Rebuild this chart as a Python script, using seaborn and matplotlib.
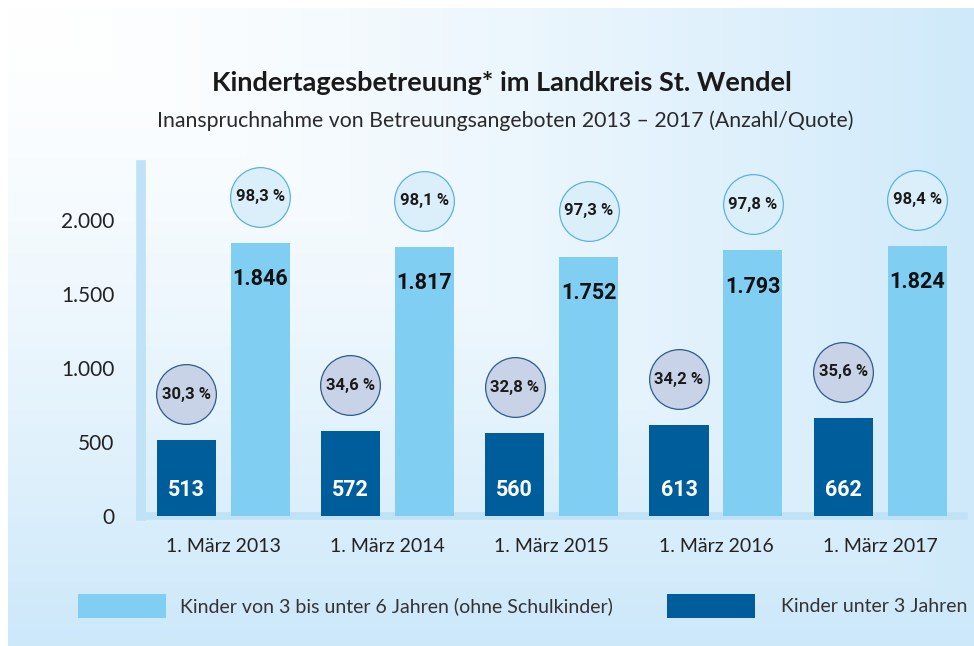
import numpy as np
import pandas as pd
import matplotlib
matplotlib.use("Agg")
import matplotlib.pyplot as plt
import matplotlib.transforms as mtransforms
from matplotlib.patches import Patch
import seaborn as sns

# === DATA ===
stichtage = ["1. März 2013", "1. März 2014", "1. März 2015", "1. März 2016", "1. März 2017"]
kinder_unter_3 = [513, 572, 560, 613, 662]
kinder_3_bis_6 = [1846, 1817, 1752, 1793, 1824]
quote_unter_3 = [30.3, 34.6, 32.8, 34.2, 35.6]
quote_3_bis_6 = [98.3, 98.1, 97.3, 97.8, 98.4]

lbl_unter3 = "Kinder unter 3 Jahren"
lbl_3bis6 = "Kinder von 3 bis unter 6 Jahren (ohne Schulkinder)"

df = pd.DataFrame({
    "Stichtag": stichtage * 2,
    "Anzahl": kinder_unter_3 + kinder_3_bis_6,
    "Gruppe": [lbl_unter3] * 5 + [lbl_3bis6] * 5,
})

dark = "#005d9c"
light = "#80cef2"

sns.set_theme(style="white")
plt.rcParams["font.family"] = ["Lato", "DejaVu Sans"]

fig = plt.figure(figsize=(9.74, 6.46), dpi=100)
fig.patch.set_facecolor("white")

# === BACKGROUND GRADIENT ===
bg = fig.add_axes([8 / 974, 0, 1 - 8 / 974, 1 - 8 / 646])
xx, yy = np.meshgrid(np.linspace(0, 1, 300), np.linspace(0, 1, 200))
t = np.clip(np.maximum(xx * 0.95, yy) ** 1.4, 0, 1)
c0 = np.array([1.0, 1.0, 1.0])
c1 = np.array([0.80, 0.91, 0.98])
img = c0[None, None, :] * (1 - t[..., None]) + c1[None, None, :] * t[..., None]
bg.imshow(img, aspect="auto", extent=[0, 1, 0, 1], origin="upper")
bg.set_axis_off()
bg.set_zorder(0)

# === BARS ===
ax = fig.add_axes([141 / 974, 130 / 646, (964 - 141) / 974, (516 - 165) / 646])
ax.set_zorder(1)
ax.patch.set_alpha(0)
sns.barplot(
    data=df, x="Stichtag", y="Anzahl", hue="Gruppe",
    hue_order=[lbl_unter3, lbl_3bis6], palette=[dark, light],
    width=0.9, gap=0.2, legend=False, saturation=1, linewidth=0,
    ax=ax, zorder=3,
)
ax.set_ylim(0, 2370)
ax.set_xlim(-0.5, 4.51)
ax.set_yticks([0, 500, 1000, 1500, 2000])
ax.set_yticklabels(["0", "500", "1.000", "1.500", "2.000"])
ax.set_xlabel("")
ax.set_ylabel("")
ax.tick_params(axis="y", length=0, pad=19, labelsize=15, labelcolor="#222222")
ax.tick_params(axis="x", length=0, pad=16, labelsize=14, labelcolor="#222222")
for s in ["top", "right"]:
    ax.spines[s].set_visible(False)
ax.spines["left"].set_color("#bfe2f6")
ax.spines["left"].set_linewidth(7)
ax.spines["bottom"].set_color("#bfe2f6")
ax.spines["bottom"].set_linewidth(5.5)
ax.spines["left"].set_zorder(2)
ax.spines["bottom"].set_zorder(2)


def de_num(v):
    return f"{v:,}".replace(",", ".")


def de_pct(v):
    return f"{v:.1f}".replace(".", ",") + " %"


num_font = ["Roboto", "DejaVu Sans"]
up = mtransforms.ScaledTranslation(0, 46 / 100, fig.dpi_scale_trans)

specs = [
    (ax.containers[0], kinder_unter_3, quote_unter_3, "#c8d3e7", "#2e5a8e"),
    (ax.containers[1], kinder_3_bis_6, quote_3_bis_6, "#dbeffb", "#5bb2de"),
]
for i, (cont, werte, quoten, fc, ec) in enumerate(specs):
    xs = [b.get_x() + b.get_width() / 2 for b in cont]
    hs = [b.get_height() for b in cont]
    # circles with the quota above each bar
    ax.scatter(xs, hs, s=1850, facecolor=fc, edgecolor=ec, linewidth=0.9,
               transform=ax.transData + up, zorder=4, clip_on=False)
    for x, h, w, q in zip(xs, hs, werte, quoten):
        ax.annotate(de_pct(q), (x, h), xytext=(0, 46 * 0.72), textcoords="offset points",
                    ha="center", va="center", fontsize=12, fontweight="bold",
                    color="#1a1a1a", family=num_font, zorder=5, annotation_clip=False)
        if i == 0:
            ax.annotate(de_num(w), (x, 0), xytext=(0, 19), textcoords="offset points",
                        ha="center", va="center", fontsize=15.5, fontweight="bold",
                        color="white", family=num_font, zorder=5)
        else:
            ax.annotate(de_num(w), (x, h), xytext=(0, -26), textcoords="offset points",
                        ha="center", va="center", fontsize=15.5, fontweight="bold",
                        color="#111111", family=num_font, zorder=5)

# === TITLES ===
fig.text(502 / 974, 1 - 83 / 646, "Kindertagesbetreuung* im Landkreis St. Wendel",
         ha="center", va="center", fontsize=19.5, fontweight="bold", color="#1a1a1a")
fig.text(505 / 974, 1 - 121 / 646,
         "Inanspruchnahme von Betreuungsangeboten 2013 – 2017 (Anzahl/Quote)",
         ha="center", va="center", fontsize=15.3, color="#2a2a2a")

# === LEGEND (two entries placed separately) ===
leg_specs = [
    (Patch(facecolor=light, edgecolor="none", label=lbl_3bis6), 78, 0.75),
    (Patch(facecolor=dark, edgecolor="none", label=lbl_unter3), 667, 1.35),
]
for handle, x0, pad in leg_specs:
    leg = fig.legend(handles=[handle], loc="center left",
                     bbox_to_anchor=(x0 / 974, 1 - 606 / 646),
                     frameon=False, fontsize=14, handlelength=4.5, handleheight=1.55,
                     handletextpad=pad, borderpad=0, borderaxespad=0)
    for txt in leg.get_texts():
        txt.set_color("#333333")

fig.savefig("out.png", dpi=100, facecolor=fig.get_facecolor())
